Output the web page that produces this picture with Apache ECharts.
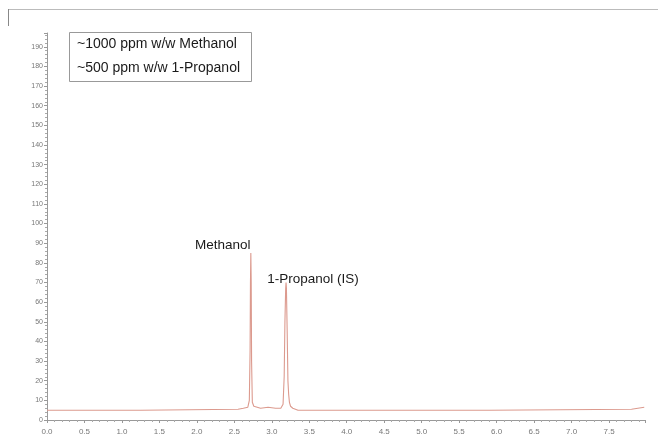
<!DOCTYPE html>
<html>
<head>
<meta charset="utf-8">
<script src="https://cdn.jsdelivr.net/npm/echarts@6/dist/echarts.min.js"></script>
<style>html,body{margin:0;padding:0;background:#fff;}#c{width:658px;height:448px;}</style>
</head>
<body>
<div id="c"></div>
<script>
// Retention time (min)
const times = [0, 1.25, 1.26, 2.55, 2.62, 2.68, 2.70, 2.71, 2.715, 2.72, 2.725, 2.73, 2.74, 2.76, 2.78, 2.85, 2.95, 3.05, 3.12, 3.15, 3.165, 3.175, 3.185, 3.19, 3.195, 3.205, 3.215, 3.225, 3.235, 3.25, 3.28, 3.35, 5.9, 5.92, 7.8, 7.82, 7.97];
// Detector response
const signal = [5, 5, 5.5, 5.5, 6, 6.5, 10, 35, 70, 85, 70, 30, 9, 7, 6.5, 6, 6.5, 6, 6, 8, 22, 50, 67, 70, 67, 45, 20, 13, 9, 7, 6, 5, 5, 5.5, 5.5, 6.5, 6.5];
const xTicks = ['0.0','0.5','1.0','1.5','2.0','2.5','3.0','3.5','4.0','4.5','5.0','5.5','6.0','6.5','7.0','7.5'];
const legendLines = ['~1000 ppm w/w Methanol', '~500 ppm w/w 1-Propanol'];
const peakLabels = [
  {name: 'Methanol', t: 2.72, v: 85, dx: -28, dy: 2},
  {name: '1-Propanol (IS)', t: 3.19, v: 70, dx: 27, dy: 7}
];

const chart = echarts.init(document.getElementById('c'));
const data = times.map((t, i) => [t, signal[i]]);
chart.setOption({
  animation: false,
  backgroundColor: '#fff',
  grid: {left: 47, right: 13, top: 33, bottom: 28},
  xAxis: {
    type: 'value', min: 0, max: 7.98, interval: 0.5,
    axisLine: {lineStyle: {color: '#999'}},
    axisTick: {length: 3, lineStyle: {color: '#999'}},
    minorTick: {show: true, splitNumber: 5, length: 2, lineStyle: {color: '#aaa'}},
    splitLine: {show: false},
    axisLabel: {color: '#777', fontSize: 8, margin: 8, showMaxLabel: false,
      formatter: v => xTicks[Math.round(v * 2)] || ''}
  },
  yAxis: {
    type: 'value', min: 0, max: 197, interval: 10,
    axisLine: {show: true, lineStyle: {color: '#999'}},
    axisTick: {show: true, length: 3, lineStyle: {color: '#999'}},
    minorTick: {show: true, splitNumber: 5, length: 2, lineStyle: {color: '#aaa'}},
    splitLine: {show: false},
    axisLabel: {color: '#777', fontSize: 7, margin: 4, showMaxLabel: false}
  },
  series: [{
    type: 'line', data: data, symbol: 'none', smooth: false,
    lineStyle: {color: '#dc9a8e', width: 1.1},
    markPoint: {
      symbol: 'circle', symbolSize: 0,
      data: peakLabels.map(p => ({coord: [p.t, p.v], name: p.name, value: p.name,
        label: {offset: [p.dx, p.dy]}})),
      label: {show: true, formatter: '{b}', position: 'top', distance: 3,
        color: '#1a1a1a', fontSize: 13.5, fontFamily: 'Liberation Sans, Arial'}
    }
  }],
  graphic: [
    {type: 'line', shape: {x1: 8, y1: 9.5, x2: 658, y2: 9.5}, style: {stroke: '#bbb', lineWidth: 1}},
    {type: 'line', shape: {x1: 8.5, y1: 9, x2: 8.5, y2: 26}, style: {stroke: '#888', lineWidth: 1}},
    {type: 'rect', shape: {x: 69.5, y: 32.5, width: 182, height: 49}, style: {fill: '#fff', stroke: '#999', lineWidth: 1}},
    {type: 'text', left: 77, top: 37, style: {text: legendLines[0], fill: '#1a1a1a', fontSize: 14, fontFamily: 'Liberation Sans, Arial'}},
    {type: 'text', left: 77, top: 61, style: {text: legendLines[1], fill: '#1a1a1a', fontSize: 14, fontFamily: 'Liberation Sans, Arial'}}
  ]
});
</script>
</body>
</html>
